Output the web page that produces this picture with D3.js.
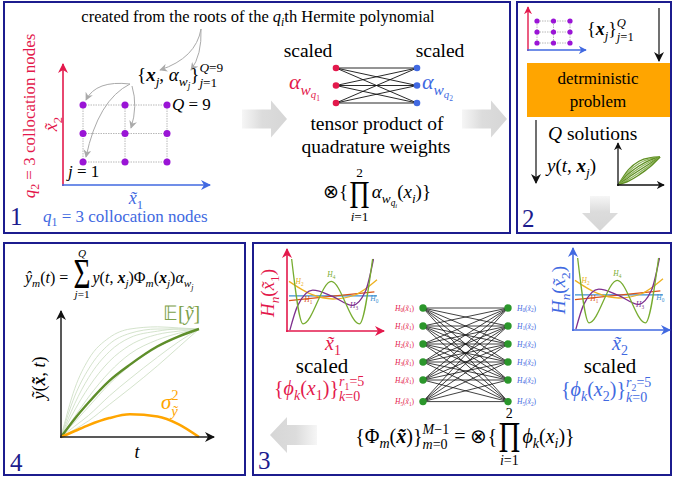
<!DOCTYPE html>
<html><head><meta charset="utf-8">
<script src="https://cdn.jsdelivr.net/npm/d3@7"></script>
</head><body style="margin:0;background:#fff">
<script>
// ---- data ----
// panel 1: collocation grid q1 x q2
const q1Nodes = [1, 2, 3];
const q2Nodes = [1, 2, 3];
// tensor product of the 1d quadrature weights
const weightNodes = [1, 2, 3];
// panel 2: the Q solutions y(t, x_j), normalised (t, y) in 0..1
const solT = [0, 0.25, 0.5, 0.75, 1];
const solRuns = [
  [0, 0.55, 0.85, 0.97, 1],
  [0, 0.47, 0.77, 0.93, 1],
  [0, 0.40, 0.68, 0.88, 1],
  [0, 0.33, 0.60, 0.82, 1],
  [0, 0.27, 0.52, 0.76, 1],
  [0, 0.20, 0.44, 0.70, 1],
  [0, 0.14, 0.36, 0.63, 1]
];
// panel 3: hermite basis, (u, v) in 0..1 of the small plots
const hermiteH0 = [[0, 0.44], [1, 0.44]];
const hermiteH1 = [[0, 0.38], [0.97, 0.49]];
const hermiteH2 = [[0, 0.62], [0.25, 0.46], [0.5, 0.40], [0.75, 0.45], [1, 0.64]];
const hermiteH3 = [[0.01, 0.01], [0.1, 0.32], [0.27, 0.51], [0.5, 0.43], [0.72, 0.32], [0.87, 0.5], [0.96, 0.9]];
const hermiteH4 = [[0.03, 0.9], [0.16, 0.09], [0.48, 0.62], [0.8, 0.09], [0.95, 0.9]];
const hermiteNames = ["0", "1", "2", "3", "4"];
const hermiteLabelU = [0.97, 0.22, 0.12, 0.74, 0.48];
const hermiteLabelV = [0.37, 0.36, 0.59, 0.29, 0.67];
const basisIndex = [0, 1, 2, 3, 4, 5];
const basisRows = [0, 1, 2, 3, 4, 5.2];
// panel 4: runs, mean and variance over normalised t
const tGrid = [0, 0.1, 0.2, 0.35, 0.5, 0.7, 0.85, 1];
const sampleRuns = [
  [0, 0.45, 0.72, 0.92, 1.0, 1.02, 1.01, 1.0],
  [0, 0.38, 0.63, 0.86, 0.96, 1.0, 1.0, 1.0],
  [0, 0.31, 0.55, 0.79, 0.92, 0.98, 1.0, 1.0],
  [0, 0.25, 0.46, 0.70, 0.85, 0.95, 0.98, 1.0],
  [0, 0.19, 0.37, 0.60, 0.77, 0.90, 0.96, 1.0],
  [0, 0.14, 0.28, 0.49, 0.66, 0.83, 0.93, 1.0],
  [0, 0.10, 0.20, 0.38, 0.54, 0.74, 0.88, 1.0],
  [0, 0.07, 0.15, 0.30, 0.45, 0.66, 0.83, 1.0]
];
const meanRun = [0, 0.17, 0.32, 0.52, 0.67, 0.84, 0.93, 1.0];
const varRun = [0, 0.055, 0.11, 0.175, 0.21, 0.19, 0.12, 0];

const navy = "#1c1c8e", red = "#e3194c", blue = "#4169e1", purple = "#9a14d6",
      orange = "#ffa500", green = "#2b962b";
const hermiteColors = ["#3a8fd0", "#d95319", "#edb120", "#7e2f8e", "#77ac30"];
const SERIF = "Liberation Serif";

const svg = d3.select("body").append("svg").attr("width", 673).attr("height", 481);
const defs = svg.append("defs");

function marker(id, color, size) {
  defs.append("marker").attr("id", id).attr("viewBox", "0 0 10 10")
    .attr("refX", 9).attr("refY", 5).attr("markerWidth", size).attr("markerHeight", size)
    .attr("markerUnits", "userSpaceOnUse").attr("orient", "auto")
    .append("path").attr("d", "M0,0 L10,5 L0,10 L3,5 Z").attr("fill", color);
}
marker("aRed", red, 10); marker("aBlue", blue, 10); marker("aBlack", "#111", 10);
marker("aRedS", red, 8); marker("aBlueS", blue, 8); marker("aBlackS", "#111", 8);
marker("aGray", "#aaa", 8);

function grad(id, x2, y2, rev) {
  const gr = defs.append("linearGradient").attr("id", id)
    .attr("x1", rev ? x2 : 0).attr("y1", rev ? y2 : 0).attr("x2", rev ? 0 : x2).attr("y2", rev ? 0 : y2);
  gr.append("stop").attr("offset", "0").attr("stop-color", "#f6f6f6");
  gr.append("stop").attr("offset", "0.45").attr("stop-color", "#dcdcdc");
  gr.append("stop").attr("offset", "1").attr("stop-color", "#d6d6d6");
}
grad("gRight", 1, 0, false); grad("gLeft", 1, 0, true); grad("gDown", 0, 1, false);

// ---- little math typesetter ----
function glyph(g, t, x, y, size, st, col) {
  // non-breaking spaces so leading/trailing blanks are kept
  const el = g.append("text").attr("x", x).attr("y", y).attr("font-size", size)
    .attr("font-family", SERIF).text(t.replace(/ /g, "\u00a0"));
  if (st && st.includes("i")) el.attr("font-style", "italic");
  if (st && st.includes("b")) el.attr("font-weight", "bold");
  if (col) el.attr("fill", col);
  return el.node().getComputedTextLength();
}
function run(g, items, x, y, size, col) {
  let cx = x;
  for (const raw of items) {
    const it = typeof raw === "string" ? { t: raw } : raw;
    const c = it.c || col;
    if (it.sp !== undefined) { cx += it.sp * size; continue; }
    if (it.op) {
      const oh = size * (it.oh || 1.6), ow = size * (it.ow || 1.05), ls = size * 0.7;
      const tmp = g.append("g");
      const wo = it.over ? run(tmp, it.over, 0, 0, ls, c) : 0;
      const wu = it.under ? run(tmp, it.under, 0, 0, ls, c) : 0;
      tmp.remove();
      const Wt = Math.max(ow, wo, wu);
      const mid = cx + Wt / 2 + size * 0.08;
      const bottom = y - (it.oc || 0.35) * size + oh / 2;
      const og = g.append("g");
      const el = og.append("text").attr("font-size", oh / 0.66).attr("font-family", SERIF)
        .attr("text-anchor", "middle").text(it.op);
      if (c) el.attr("fill", c);
      const nat = el.node().getComputedTextLength();
      og.attr("transform", `translate(${mid},${bottom}) scale(${ow / nat},1)`);
      if (it.over) run(g, it.over, mid - wo / 2, bottom - oh - 0.25 * size, ls, c);
      if (it.under) run(g, it.under, mid - wu / 2, bottom + ls * 0.95, ls, c);
      cx += Wt + size * 0.2;
      continue;
    }
    if (it.t) cx += glyph(g, it.t, cx, y, size * (it.s || 1), it.st, c);
    const ss = size * 0.7;
    if (it.sup && it.sub) {
      const a = run(g, it.sup, cx, y - 0.45 * size, ss, c);
      const b = run(g, it.sub, cx, y + 0.32 * size, ss, c);
      cx += Math.max(a, b);
    } else if (it.sup) cx += run(g, it.sup, cx, y - 0.42 * size, ss, c);
    else if (it.sub) cx += run(g, it.sub, cx, y + 0.25 * size, ss, c);
  }
  return cx - x;
}
function mt(x, y, items, o = {}) {
  const size = o.size || 16;
  const outer = svg.append("g").attr("transform", `translate(${x},${y})` + (o.rotate ? ` rotate(${o.rotate})` : ""));
  const g = outer.append("g").attr("fill", o.fill || "#000");
  const w = run(g, items, 0, 0, size, null);
  if (o.anchor === "middle") g.attr("transform", `translate(${-w / 2},0)`);
  if (o.anchor === "end") g.attr("transform", `translate(${-w},0)`);
  return w;
}
const I = s => ({ t: s, st: "i" });

function line(d, color, w, mk, dash) {
  const p = svg.append("path").attr("d", d).attr("fill", "none").attr("stroke", color).attr("stroke-width", w);
  if (mk) p.attr("marker-end", `url(#${mk})`);
  if (dash) p.attr("stroke-dasharray", dash);
  return p;
}
function blockArrow(tail, tip, c, bw, hw, hl, vertical, fill) {
  const dir = Math.sign(tip - tail), h = tip - dir * hl;
  let pts = [[tail, c - bw], [h, c - bw], [h, c - hw], [tip, c], [h, c + hw], [h, c + bw], [tail, c + bw]];
  if (vertical) pts = pts.map(p => [p[1], p[0]]);
  svg.append("path").attr("d", "M" + pts.join("L") + "Z").attr("fill", `url(#${fill})`);
}

// ---- panel frames ----
[[4, 2, 506, 231], [517, 2, 154, 231], [4, 243, 241, 232], [253, 243, 418, 232]].forEach(r =>
  svg.append("rect").attr("x", r[0]).attr("y", r[1]).attr("width", r[2]).attr("height", r[3])
    .attr("fill", "none").attr("stroke", navy).attr("stroke-width", 2));

// ================= panel 1 =================
mt(258, 22, ["created from the roots of the ", { t: "q", st: "i", sub: [I("i")] }, "th Hermite polynomial"], { size: 16.5, anchor: "middle" });

const gx = d3.scaleLinear().domain([1, 3]).range([83, 167]);
const gy = d3.scaleLinear().domain([1, 3]).range([162, 105]);
q2Nodes.forEach(v => line(`M${gx(1)},${gy(v)}H${gx(3)}`, "#b8b8b8", 1, null, "1.5,1"));
q1Nodes.forEach(v => line(`M${gx(v)},${gy(1)}V${gy(3)}`, "#b8b8b8", 1, null, "1.5,1"));
q1Nodes.forEach(a => q2Nodes.forEach(b =>
  svg.append("circle").attr("cx", gx(a)).attr("cy", gy(b)).attr("r", 3.5).attr("fill", purple)));

line("M63,186 V64", red, 1.6, "aRed");
line("M62,185 H210", blue, 1.6, "aBlue");

// gray pointers
line("M201,29 Q196,58 160,70", "#aaa", 1, "aGray");
line("M201,29 Q202,55 191,70", "#aaa", 1, "aGray");
line("M130,84 Q96,80 86,100", "#aaa", 1, "aGray");
line("M130,84 Q98,100 86,157", "#aaa", 1, "aGray");
line("M132,86 Q138,106 131,128", "#aaa", 1, "aGray");

mt(137, 81, ["{", { t: "x", st: "bi", sub: [I("j")] }, ", ", { t: "α", st: "i", sub: [{ t: "w", st: "i", sub: [I("j")] }] },
  { t: "}", sup: [I("Q"), "=9"], sub: [I("j"), "=1"] }], { size: 19 });
mt(172, 110, [I("Q"), " = 9"], { size: 17 });
mt(68, 177, [I("j"), " = 1"], { size: 17 });
mt(136, 204, [{ t: "x\u0303", st: "i", sub: ["1"] }], { size: 18, fill: blue, anchor: "middle" });
mt(43, 222, [{ t: "q", st: "i", sub: ["1"] }, " = 3 collocation nodes"], { size: 17, fill: blue });
mt(35, 116, [{ t: "q", st: "i", sub: ["2"] }, " = 3 collocation nodes"], { size: 17, fill: red, anchor: "middle", rotate: -90 });
mt(57, 124, [{ t: "x\u0303", st: "i", sub: ["2"] }], { size: 18, fill: red, anchor: "middle", rotate: -90 });
mt(10, 225, ["1"], { size: 25, fill: navy });

// weights network
const wy = d3.scaleLinear().domain([1, 3]).range([68, 103]);
weightNodes.forEach(a => weightNodes.forEach(b => line(`M336,${wy(a)}L417,${wy(b)}`, "#111", 0.9)));
weightNodes.forEach(a => {
  svg.append("circle").attr("cx", 336).attr("cy", wy(a)).attr("r", 3.3).attr("fill", red);
  svg.append("circle").attr("cx", 417).attr("cy", wy(a)).attr("r", 3.3).attr("fill", blue);
});
mt(308, 57, ["scaled"], { size: 19.5, anchor: "middle" });
mt(440, 57, ["scaled"], { size: 19.5, anchor: "middle" });
mt(289, 89, [{ t: "α", st: "i", sub: [{ t: "w", st: "i", sub: [{ t: "q", st: "i", sub: ["1"] }] }] }], { size: 22, fill: red });
mt(422, 89, [{ t: "α", st: "i", sub: [{ t: "w", st: "i", sub: [{ t: "q", st: "i", sub: ["2"] }] }] }], { size: 22, fill: blue });
mt(377, 130, ["tensor product of"], { size: 19.5, anchor: "middle" });
mt(376, 153, ["quadrature weights"], { size: 19.5, anchor: "middle" });
mt(377, 198, ["⊗{", { op: "Π", oh: 1.4, ow: 1.05, oc: 0.15, over: ["2"], under: [I("i"), "=1"] },
  { t: "α", st: "i", sub: [{ t: "w", st: "i", sub: [{ t: "q", st: "i", sub: [I("i")] }] }] }, "(", { t: "x", st: "i", sub: [I("i")] }, ")}"],
  { size: 19, anchor: "middle" });

blockArrow(242, 287, 119, 9.5, 18.5, 16, false, "gRight");
blockArrow(462, 507, 119, 9.5, 18.5, 16, false, "gRight");

// ================= panel 2 =================
const mx = d3.scaleLinear().domain([1, 3]).range([537, 570]);
const my = d3.scaleLinear().domain([1, 3]).range([43, 21]);
q2Nodes.forEach(v => line(`M${mx(1)},${my(v)}H${mx(3)}`, "#b8b8b8", 1, null, "1.5,1"));
q1Nodes.forEach(v => line(`M${mx(v)},${my(1)}V${my(3)}`, "#b8b8b8", 1, null, "1.5,1"));
q1Nodes.forEach(a => q2Nodes.forEach(b =>
  svg.append("circle").attr("cx", mx(a)).attr("cy", my(b)).attr("r", 2.6).attr("fill", purple)));
line("M528,51 V7", red, 1.4, "aRedS");
line("M527,50 H586", blue, 1.4, "aBlueS");
mt(587, 35, ["{", { t: "x", st: "bi", sub: [I("j")] }, { t: "}", sup: [I("Q")], sub: [I("j"), "=1"] }], { size: 18 });
line("M659,8 V61", "#111", 1.2, "aBlack");
svg.append("rect").attr("x", 527).attr("y", 63).attr("width", 143).attr("height", 54).attr("fill", orange);
mt(598, 84, ["detrministic"], { size: 17, anchor: "middle" });
mt(598, 107, ["problem"], { size: 17, anchor: "middle" });
line("M536,120 V183", "#111", 1.2, "aBlack");
mt(548, 140, [I("Q"), " solutions"], { size: 19.5 });
mt(547, 172, [I("y"), "(", I("t"), ", ", { t: "x", st: "bi", sub: [I("j")] }, ")"], { size: 19 });

const sx = d3.scaleLinear().domain([0, 1]).range([618, 660]);
const sy = d3.scaleLinear().domain([0, 1]).range([185, 157]);
const solLine = d3.line().x((d, i) => sx(solT[i])).y(d => sy(d)).curve(d3.curveMonotoneX);
solRuns.forEach((r, k) => svg.append("path").attr("d", solLine(r)).attr("fill", "none")
  .attr("stroke", k % 2 ? "#8db35a" : "#5f8f22").attr("stroke-width", 1.3));
line("M618,186 V143", "#111", 1.3, "aBlackS");
line("M617,185 H664", "#111", 1.3, "aBlackS");
mt(522, 227, ["2"], { size: 25, fill: navy });
blockArrow(196, 231, 600, 10, 18, 18, true, "gDown");

// ================= panel 4 =================
mt(25, 283, [{ t: "y\u0302", st: "i", sub: [I("m")] }, "(", I("t"), ") = ",
  { op: "Σ", oh: 1.7, ow: 1.06, oc: 0.55, over: [I("Q")], under: [I("j"), "=1"] },
  I("y"), "(", I("t"), ", ", { t: "x", st: "bi", sub: [I("j")] }, ")", { t: "Φ", sub: [I("m")] }, "(",
  { t: "x", st: "bi", sub: [I("j")] }, ")", { t: "α", st: "i", sub: [{ t: "w", st: "i", sub: [I("j")] }] }], { size: 16 });

const px = d3.scaleLinear().domain([0, 1]).range([61, 199]);
const py = d3.scaleLinear().domain([0, 1]).range([437, 329]);
const tLine = d3.line().x((d, i) => px(tGrid[i])).y(d => py(d)).curve(d3.curveMonotoneX);
sampleRuns.forEach(r => svg.append("path").attr("d", tLine(r)).attr("fill", "none")
  .attr("stroke", "#cfe0c6").attr("stroke-width", 0.9));
svg.append("path").attr("d", tLine(meanRun)).attr("fill", "none").attr("stroke", "#5e8e2a").attr("stroke-width", 2.4);
svg.append("path").attr("d", tLine(varRun)).attr("fill", "none").attr("stroke", orange).attr("stroke-width", 2.6);
line("M61,438 V311", "#222", 1.5, "aBlack");
line("M60,437 H214", "#222", 1.5, "aBlack");
mt(137, 458, [I("t")], { size: 18, anchor: "middle" });
mt(45, 378, [{ t: "y\u0303", st: "i" }, "(", { t: "x\u0303", st: "bi" }, ", ", I("t"), ")"], { size: 18, anchor: "middle", rotate: -90 });
mt(163, 320, ["𝔼[", { t: "y\u0303", st: "i" }, "]"], { size: 20, fill: "#7ca14a" });
mt(161, 409, [{ t: "σ", st: "i", sup: ["2"], sub: [{ t: "y\u0303", st: "i" }] }], { size: 21, fill: orange });
mt(10, 471, ["4"], { size: 25, fill: navy });

// ================= panel 3 =================
const hermite = [hermiteH0, hermiteH1, hermiteH2, hermiteH3, hermiteH4];
function hermitePlot(xr, yr, axisColor, mk) {
  const hx = d3.scaleLinear().domain([0, 1]).range(xr);
  const hy = d3.scaleLinear().domain([0, 1]).range(yr);
  const hl = d3.line().x(d => hx(d[0])).y(d => hy(d[1])).curve(d3.curveMonotoneX);
  hermite.forEach((h, k) => svg.append("path").attr("d", hl(h)).attr("fill", "none")
    .attr("stroke", hermiteColors[k]).attr("stroke-width", 1.3));
  hermiteNames.forEach((n, k) => mt(hx(hermiteLabelU[k]), hy(hermiteLabelV[k]), [{ t: "H", st: "i", sub: [n] }],
    { size: 7.5, fill: hermiteColors[k], anchor: "middle" }));
  line(`M${xr[0] - 2},${yr[0] + 1}V${yr[1] - 2}`, axisColor, 1.6, mk);
  line(`M${xr[0] - 3},${yr[0]}H${xr[1] + 7}`, axisColor, 1.6, mk);
}
hermitePlot([289, 377], [331, 251], red, "aRed");
hermitePlot([575, 663], [330, 250], blue, "aBlue");

mt(274, 293, [{ t: "H", st: "i", sub: [I("n")] }, "(", { t: "x\u0303", st: "i", sub: ["1"] }, ")"], { size: 19, fill: red, anchor: "middle", rotate: -90 });
mt(565, 290, [{ t: "H", st: "i", sub: [I("n")] }, "(", { t: "x\u0303", st: "i", sub: ["2"] }, ")"], { size: 19, fill: blue, anchor: "middle", rotate: -90 });
mt(333, 350, [{ t: "x\u0303", st: "i", sub: ["1"] }], { size: 20, fill: red, anchor: "middle" });
mt(620, 350, [{ t: "x\u0303", st: "i", sub: ["2"] }], { size: 20, fill: blue, anchor: "middle" });
mt(322, 373, ["scaled"], { size: 21, anchor: "middle" });
mt(610, 373, ["scaled"], { size: 21, anchor: "middle" });
mt(274, 395, ["{", { t: "ϕ", st: "i", sub: [I("k")] }, "(", { t: "x", st: "i", sub: ["1"] }, ")",
  { t: "}", sup: [{ t: "r", st: "i", sub: ["1"] }, "=5"], sub: [I("k"), "=0"] }], { size: 20, fill: red });
mt(561, 396, ["{", { t: "ϕ", st: "i", sub: [I("k")] }, "(", { t: "x", st: "i", sub: ["2"] }, ")",
  { t: "}", sup: [{ t: "r", st: "i", sub: ["2"] }, "=5"], sub: [I("k"), "=0"] }], { size: 20, fill: blue });

const by = d3.scaleLinear().domain([0, 5]).range([308, 398]);
basisRows.forEach(a => basisRows.forEach(b => line(`M423,${by(a)}L508,${by(b)}`, "#111", 0.8)));
basisRows.forEach((r, k) => {
  svg.append("circle").attr("cx", 423).attr("cy", by(r)).attr("r", 3.7).attr("fill", green);
  svg.append("circle").attr("cx", 508).attr("cy", by(r)).attr("r", 3.7).attr("fill", green);
  mt(414, by(r) + 2.5, [{ t: "H", st: "i", sub: [String(basisIndex[k])] }, "(", { t: "x\u0303", st: "i", sub: ["1"] }, ")"], { size: 7.5, fill: red, anchor: "end" });
  mt(517, by(r) + 2.5, [{ t: "H", st: "i", sub: [String(basisIndex[k])] }, "(", { t: "x\u0303", st: "i", sub: ["2"] }, ")"], { size: 7.5, fill: blue });
});

mt(465, 443, ["{", { t: "Φ", sub: [I("m")] }, "(", { t: "x\u0303", st: "bi" }, ")", { t: "}", sup: [I("M"), "−1"], sub: [I("m"), "=0"] },
  " = ⊗{", { op: "Π", oh: 1.45, ow: 1.07, oc: 0.3, over: ["2"], under: [I("i"), "=1"] }, { t: "ϕ", st: "i", sub: [I("k")] }, "(", { t: "x", st: "i", sub: [I("i")] }, ")}"],
  { size: 20, anchor: "middle" });
blockArrow(317, 270, 435, 10, 18, 17, false, "gLeft");
mt(258, 469, ["3"], { size: 25, fill: navy });
</script></body></html>
